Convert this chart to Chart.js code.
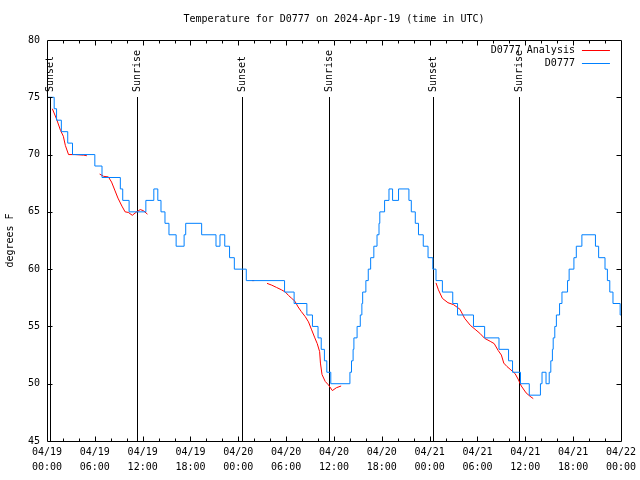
<!DOCTYPE html>
<html>
<head>
<meta charset="utf-8">
<script src="https://cdn.jsdelivr.net/npm/chart.js@4.4.1/dist/chart.umd.min.js"></script>
<style>
html, body { margin: 0; padding: 0; background: #fff; }
canvas { display: block; }
</style>
</head>
<body>
<canvas id="grafico" width="640" height="480"></canvas>
<script>
// hours since 04/19 00:00 UTC
var obsHours = [0.0, 0.05, 0.9, 1.2, 1.8, 2.6, 3.2, 6.0, 6.9, 9.2, 9.5, 10.3, 12.4, 13.4, 13.9, 14.3, 14.8, 15.3, 16.2, 17.2,
    17.4, 19.4, 21.2, 21.7, 22.3, 22.9, 23.5, 25.0, 29.8, 31.0, 32.6, 33.3, 34.0, 34.4, 34.8, 35.1, 35.6, 38.0, 38.2, 38.4,
    38.5, 38.9, 39.3, 39.5, 39.6, 40.0, 40.3, 40.6, 41.0, 41.4, 41.65, 41.75, 42.35, 42.9, 43.35, 44.1, 45.4, 45.7, 46.2, 46.6,
    47.2, 47.8, 48.4, 48.8, 49.6, 50.9, 51.5, 53.5, 54.9, 56.7, 57.9, 58.4, 59.4, 60.5, 61.9, 62.1, 62.6, 63.0, 63.2, 63.4,
    63.5, 63.7, 63.9, 64.3, 64.6, 65.3, 65.5, 66.1, 66.4, 67.1, 68.8, 69.2, 70.0, 70.3, 70.6, 71.0, 71.9, 72.0];
var obsTemps = [76, 75, 74, 73, 72, 71, 70, 69, 68, 67, 66, 65, 66, 67, 66, 65, 64, 63, 62, 63,
    64, 63, 62, 63, 62, 61, 60, 59, 58, 57, 56, 55, 54, 53, 52, 51, 50, 51, 52, 53,
    54, 55, 56, 57, 58, 59, 60, 61, 62, 63, 64, 65, 66, 67, 66, 67, 66, 65, 64, 63,
    62, 61, 60, 59, 58, 57, 56, 55, 54, 53, 52, 51, 50, 49, 50, 51, 50, 51, 52, 53,
    54, 55, 56, 57, 58, 59, 60, 61, 62, 63, 62, 61, 60, 59, 58, 57, 56, 56];

var anaHours = [0.67, 1.2, 1.7, 2.05, 2.3, 2.7, 3.5, 4.6, 5.0, 5.1,
    6.6, 7.1, 7.7, 8.1, 8.5, 8.9, 9.4, 9.8, 10.2, 10.7, 11.25, 11.7, 12.1, 12.6, 12.7,
    25.7, 26.0, 26.1,
    27.6, 28.2, 28.8, 29.4, 29.9, 30.3, 30.7, 31.1, 31.5, 31.9, 32.4, 32.8, 33.2, 33.6, 33.9, 34.2, 34.3, 34.5, 34.9, 35.3,
    35.8, 36.3, 36.9, 37.0,
    48.8, 49.1, 49.6, 50.3, 51.0, 51.8, 52.4, 53.1, 53.7, 54.3, 54.9, 55.6, 56.1, 56.6, 57.0, 57.3, 57.7, 58.2, 58.7, 59.1,
    59.5, 60.1, 60.6, 61.0];
var anaTemps = [74.0, 73.1, 72.1, 71.6, 70.8, 70.0, 70.0, 69.95, 69.9, null,
    68.3, 68.1, 68.05, 67.6, 66.9, 66.2, 65.5, 65.0, 64.95, 64.7, 65.0, 65.2, 65.1, 64.8, null,
    59.0, 59.0, null,
    58.76, 58.6, 58.4, 58.2, 58.0, 57.7, 57.45, 57.2, 56.7, 56.3, 55.85, 55.4, 54.7, 54.0, 53.5, 52.8, 51.8, 50.8, 50.2, 49.9,
    49.4, 49.65, 49.8, null,
    58.8, 58.2, 57.45, 57.07, 56.9, 56.5, 55.7, 55.1, 54.75, 54.4, 53.96, 53.7, 53.5, 52.9, 52.5, 51.8, 51.5, 51.2, 50.9, 50.4,
    49.8, 49.2, 48.9, 48.7];

var sunHours = [0.33, 11.28, 24.45, 35.36, 48.47, 59.25];
var sunLabels = ['Sunset', 'Sunrise', 'Sunset', 'Sunrise', 'Sunset', 'Sunrise'];

var tickDates = ['04/19', '04/19', '04/19', '04/19', '04/20', '04/20', '04/20', '04/20', '04/21', '04/21', '04/21', '04/21', '04/22'];
var tickTimes = ['00:00', '06:00', '12:00', '18:00', '00:00', '06:00', '12:00', '18:00', '00:00', '06:00', '12:00', '18:00', '00:00'];

var FONT = 'DejaVu Sans Mono';

function toPoints(xs, ys) {
    return xs.map(function (x, i) { return { x: x, y: ys[i] }; });
}

// gnuplot look: inward ticks, border, sun lines, key
var gnuplotDeco = {
    id: 'gnuplotDeco',
    beforeDatasetsDraw: function (chart) {
        var ctx = chart.ctx, a = chart.chartArea, xs = chart.scales.x;
        ctx.save();
        ctx.strokeStyle = '#000';
        ctx.fillStyle = '#000';
        ctx.lineWidth = 1;
        ctx.font = '10px "' + FONT + '"';
        for (var i = 0; i < sunHours.length; i++) {
            var px = Math.round(xs.getPixelForValue(sunHours[i])) + 0.5;
            ctx.beginPath();
            ctx.moveTo(px, a.top + 57);
            ctx.lineTo(px, a.bottom);
            ctx.stroke();
            ctx.save();
            ctx.translate(px, a.top + 52);
            ctx.rotate(-Math.PI / 2);
            ctx.textAlign = 'left';
            ctx.textBaseline = 'middle';
            ctx.fillText(sunLabels[i], 0, 0);
            ctx.restore();
        }
        ctx.restore();
    },
    afterDraw: function (chart) {
        var ctx = chart.ctx, a = chart.chartArea, xs = chart.scales.x, ys = chart.scales.y;
        var L = Math.round(a.left) + 0.5, R = Math.round(a.right) + 0.5;
        var T = Math.round(a.top) + 0.5, B = Math.round(a.bottom) + 0.5;
        ctx.save();
        ctx.strokeStyle = '#000';
        ctx.lineWidth = 1;
        ctx.beginPath();
        ctx.rect(L, T, R - L, B - T);
        for (var h = 2; h < 72; h += 2) {
            var len = (h % 6 === 0) ? 5 : 3;
            var px = Math.round(xs.getPixelForValue(h)) + 0.5;
            ctx.moveTo(px, B); ctx.lineTo(px, B - len);
            ctx.moveTo(px, T); ctx.lineTo(px, T + len);
        }
        for (var v = 50; v < 80; v += 5) {
            var py = Math.round(ys.getPixelForValue(v)) + 0.5;
            ctx.moveTo(L, py); ctx.lineTo(L + 5, py);
            ctx.moveTo(R, py); ctx.lineTo(R - 5, py);
        }
        ctx.stroke();

        // key
        ctx.font = '10px "' + FONT + '"';
        ctx.textAlign = 'right';
        ctx.textBaseline = 'middle';
        ctx.fillStyle = '#000';
        chart.data.datasets.forEach(function (ds, i) {
            var y = Math.round(a.top + 10 + i * 12.5) + 0.5;
            ctx.fillText(ds.label, a.right - 46, y);
            ctx.strokeStyle = ds.borderColor;
            ctx.beginPath();
            ctx.moveTo(a.right - 39, y);
            ctx.lineTo(a.right - 11, y);
            ctx.stroke();
        });
        ctx.restore();
    }
};

var ctx = document.getElementById('grafico').getContext('2d');
var grafico = new Chart(ctx, {
    type: 'line',
    data: {
        datasets: [{
            label: 'D0777 Analysis',
            data: toPoints(anaHours, anaTemps),
            borderColor: '#ff0000',
            borderWidth: 1,
            pointRadius: 0,
            spanGaps: false,
            order: 1
        }, {
            label: 'D0777',
            data: toPoints(obsHours, obsTemps),
            borderColor: '#0080ff',
            borderWidth: 1,
            pointRadius: 0,
            stepped: true,
            order: 0
        }]
    },
    options: {
        responsive: false,
        animation: false,
        devicePixelRatio: 1,
        layout: { padding: { top: 0, right: 19, bottom: 0, left: 0 } },
        plugins: {
            legend: { display: false },
            tooltip: { enabled: false },
            title: {
                display: true,
                fullSize: false,
                text: 'Temperature for D0777 on 2024-Apr-19 (time in UTC)',
                color: '#000',
                font: { family: FONT, size: 10, weight: 'normal', lineHeight: 1.2 },
                padding: { top: 13, bottom: 15 }
            }
        },
        scales: {
            x: {
                type: 'linear',
                min: 0,
                max: 72,
                grid: { display: false, drawTicks: false },
                border: { display: false },
                ticks: {
                    stepSize: 6,
                    autoSkip: false,
                    maxRotation: 0,
                    padding: 4,
                    color: '#000',
                    font: { family: FONT, size: 10, lineHeight: 1.5 },
                    callback: function (value) {
                        var i = Math.round(value / 6);
                        return [tickDates[i], tickTimes[i]];
                    }
                },
                afterFit: function (scale) { scale.height = 39; }
            },
            y: {
                min: 45,
                max: 80,
                grid: { display: false, drawTicks: false },
                border: { display: false },
                ticks: {
                    stepSize: 5,
                    padding: 7,
                    color: '#000',
                    font: { family: FONT, size: 10 }
                },
                title: {
                    display: true,
                    text: 'degrees F',
                    color: '#000',
                    font: { family: FONT, size: 10, lineHeight: 1.2 },
                    padding: { top: 4, bottom: 0 }
                },
                afterFit: function (scale) { scale.width = 47; }
            }
        }
    },
    plugins: [gnuplotDeco]
});
</script>
</body>
</html>
